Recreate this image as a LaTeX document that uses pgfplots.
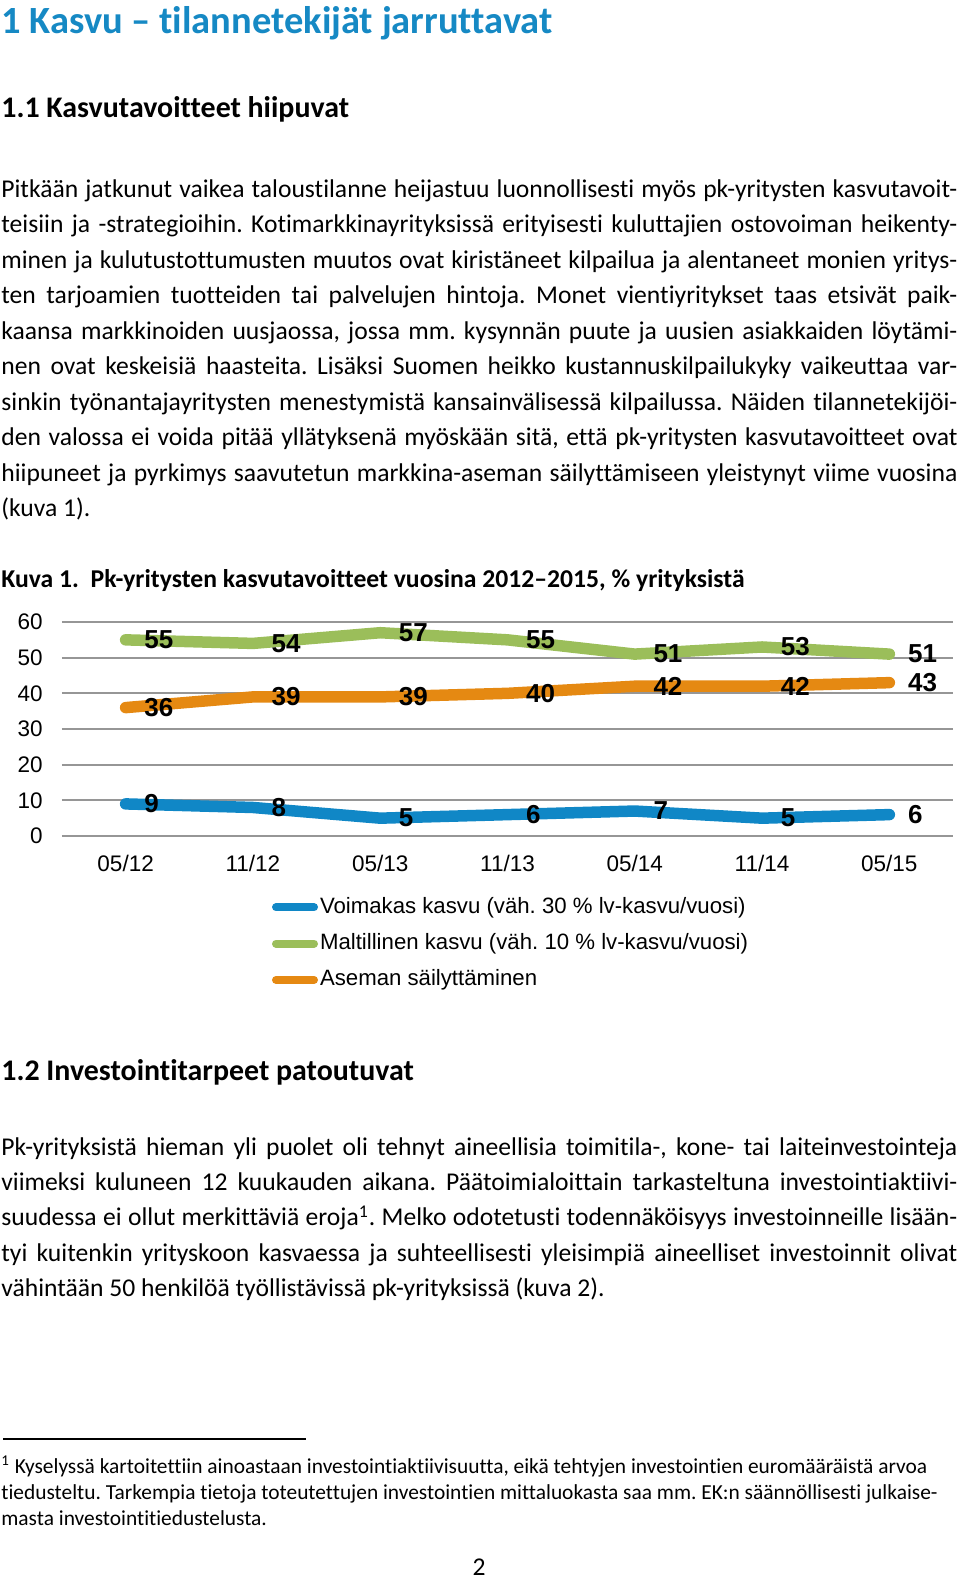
\documentclass[border=0pt]{standalone}
\usepackage{fontspec}
\setmainfont{Carlito}[Ligatures=NoCommon]
\newfontfamily\arial{Liberation Sans}
\usepackage{pgfplots}
\pgfplotsset{compat=1.18}
\definecolor{hblue}{RGB}{22,137,196}
\definecolor{cblue}{RGB}{16,135,198}
\definecolor{cgreen}{RGB}{155,190,90}
\definecolor{corange}{RGB}{229,137,18}
\definecolor{cgrid}{RGB}{150,150,150}
\newcommand\jl[1]{\makebox[\linewidth][s]{#1}\\}
\begin{document}
\frenchspacing
\begin{tikzpicture}
\begin{scope}[x=0.5pt,y=-0.5pt]
\path[use as bounding box] (0,0) rectangle (960,1579);
\node[anchor=base west,inner sep=0pt] at (1,33.5) {\fontsize{19.25pt}{22pt}\selectfont\bfseries\color{hblue}1 Kasvu – tilannetekijät jarruttavat};
\node[anchor=base west,inner sep=0pt] at (1,117.3) {\fontsize{14.95pt}{17pt}\selectfont\bfseries 1.1 Kasvutavoitteet hiipuvat};
\node[anchor=base west,inner sep=0pt] at (1,197.3) {\parbox[t]{478pt}{\fontsize{12.8pt}{17.75pt}\selectfont
\jl{Pitkään jatkunut vaikea taloustilanne heijastuu luonnollisesti myös pk-yritysten kasvutavoit-}
\jl{teisiin ja -strategioihin. Kotimarkkinayrityksissä erityisesti kuluttajien ostovoiman heikenty-}
\jl{minen ja kulutustottumusten muutos ovat kiristäneet kilpailua ja alentaneet monien yritys-}
\jl{ten tarjoamien tuotteiden tai palvelujen hintoja. Monet vientiyritykset taas etsivät paik-}
\jl{kaansa markkinoiden uusjaossa, jossa mm. kysynnän puute ja uusien asiakkaiden löytämi-}
\jl{nen ovat keskeisiä haasteita. Lisäksi Suomen heikko kustannuskilpailukyky vaikeuttaa var-}
\jl{sinkin työnantajayritysten menestymistä kansainvälisessä kilpailussa. Näiden tilannetekijöi-}
\jl{den valossa ei voida pitää yllätyksenä myöskään sitä, että pk-yritysten kasvutavoitteet ovat}
\jl{hiipuneet ja pyrkimys saavutetun markkina-aseman säilyttämiseen yleistynyt viime vuosina}
(kuva 1).}};
\node[anchor=base west,inner sep=0pt] at (1,587.3) {\fontsize{12.83pt}{15pt}\selectfont\bfseries Kuva 1.\ \ Pk-yritysten kasvutavoitteet vuosina 2012–2015, \% yrityksistä};
\node[anchor=base west,inner sep=0pt] at (1,1080.7) {\fontsize{14.95pt}{17pt}\selectfont\bfseries 1.2 Investointitarpeet patoutuvat};
\node[anchor=base west,inner sep=0pt] at (1,1155) {\parbox[t]{478pt}{\fontsize{12.8pt}{17.7pt}\selectfont
\jl{Pk-yrityksistä hieman yli puolet oli tehnyt aineellisia toimitila-, kone- tai laiteinvestointeja}
\jl{viimeksi kuluneen 12 kuukauden aikana. Päätoimialoittain tarkasteltuna investointiaktiivi-}
\jl{suudessa ei ollut merkittäviä eroja\textsuperscript{1}. Melko odotetusti todennäköisyys investoinneille lisään-}
\jl{tyi kuitenkin yrityskoon kasvaessa ja suhteellisesti yleisimpiä aineelliset investoinnit olivat}
vähintään 50 henkilöä työllistävissä pk-yrityksissä (kuva 2).}};
\draw[line width=0.6pt] (3,1439) -- (306,1439);
\node[anchor=base west,inner sep=0pt] at (1,1473) {\parbox[t]{478pt}{\fontsize{10.7pt}{13pt}\selectfont
\textsuperscript{1} Kyselyssä kartoitettiin ainoastaan investointiaktiivisuutta, eikä tehtyjen investointien euromääräistä arvoa\\
tiedusteltu. Tarkempia tietoja toteutettujen investointien mittaluokasta saa mm. EK:n säännöllisesti julkaise-\\
masta investointitiedustelusta.}};
\node[anchor=base,inner sep=0pt] at (479,1575) {\fontsize{12.8pt}{15pt}\selectfont 2};
\end{scope}
\begin{axis}[
  at={(31pt,-418pt)}, anchor=south west,
  width=445.5pt, height=107pt, scale only axis,
  xmin=-0.5, xmax=6.5, ymin=0, ymax=60,
  xtick={0,...,6},
  xticklabels={05/12,11/12,05/13,11/13,05/14,11/14,05/15},
  ytick={0,10,...,60},
  axis line style={draw=none},
  major tick length=0pt,
  ymajorgrids, grid style={cgrid, line width=1pt},
  clip=false,
  /pgf/number format/assume math mode=true,
  yticklabel style={font=\arial\fontsize{11.25pt}{13pt}\selectfont, anchor=east, inner sep=0pt, xshift=-9.5pt},
  xticklabel style={font=\arial\fontsize{11.25pt}{13pt}\selectfont, anchor=center, inner sep=0pt, yshift=-13.75pt},
  every node near coord/.append style={font=\arial\bfseries\fontsize{13pt}{15pt}\selectfont, text=black, anchor=west, inner sep=0pt, xshift=6.5pt},
  legend style={at={(0.2357,-0.2771)}, anchor=north west, draw=none, fill=none, inner sep=0pt, outer sep=0pt,
    font=\arial\fontsize{11.1pt}{13pt}\selectfont, row sep=6.15pt,
    nodes={inner sep=0pt, text height=9pt, text depth=3pt},
    /tikz/every odd column/.append style={column sep=1pt}},
  legend cell align=left,
  legend image code/.code={\draw[#1, line width=4pt, line cap=round] (2pt,0pt) -- (21pt,0pt);},
]
\addplot[cblue, line width=5.75pt, line cap=round, line join=round, nodes near coords]
  coordinates {(0,9) (1,8) (2,5) (3,6) (4,7) (5,5) (6,6)};
\addlegendentry{Voimakas kasvu (väh. 30 \% lv-kasvu/vuosi)}
\addplot[cgreen, line width=5.75pt, line cap=round, line join=round, nodes near coords]
  coordinates {(0,55) (1,54) (2,57) (3,55) (4,51) (5,53) (6,51)};
\addlegendentry{Maltillinen kasvu (väh. 10 \% lv-kasvu/vuosi)}
\addplot[corange, line width=5.75pt, line cap=round, line join=round, nodes near coords]
  coordinates {(0,36) (1,39) (2,39) (3,40) (4,42) (5,42) (6,43)};
\addlegendentry{Aseman säilyttäminen}
\end{axis}
\end{tikzpicture}
\end{document}
